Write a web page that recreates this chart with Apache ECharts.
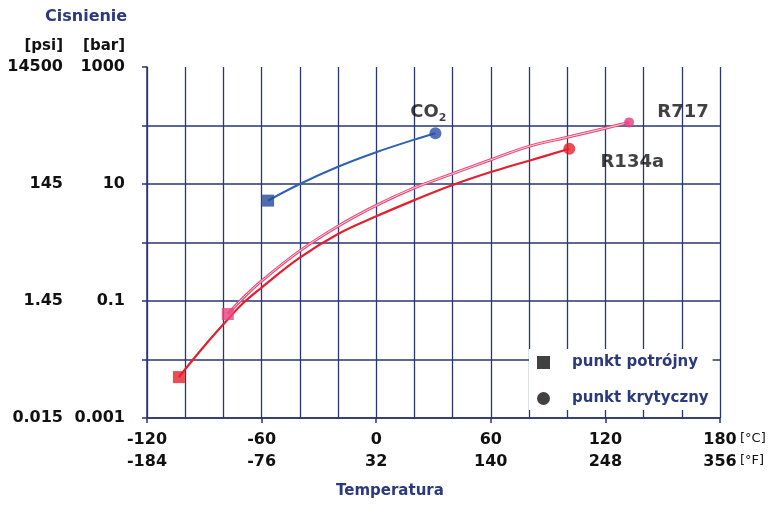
<!DOCTYPE html>
<html><head><meta charset="utf-8">
<script src="https://cdn.jsdelivr.net/npm/echarts@6/dist/echarts.min.js"></script>
<style>html,body{margin:0;padding:0;background:#fff}#c{width:774px;height:505px}</style>
</head><body><div id="c"></div>
<script>
// ---- data ----
const celsiusTicks = [-120, -60, 0, 60, 120, 180];
const fahrenheitTicks = [-184, -76, 32, 140, 248, 356];
const barTickExp = [-3, -1, 1, 3];
const barTickLabels = ['0.001', '0.1', '10', '1000'];
const psiTickLabels = ['0.015', '1.45', '145', '14500'];

const co2T = [-56.6, -40, -20, 0, 20, 31];
const co2P = [5.2, 10, 19.7, 34.9, 57.3, 73.8];

const r134aT = [-103.3, -90, -80, -70, -60, -40, -20, 0, 20, 40, 60, 80, 101.1];
const r134aP = [0.005, 0.017, 0.04, 0.09, 0.17, 0.55, 1.4, 2.8, 5.3, 9.6, 16, 25, 40];

const r717T = [-77.7, -70, -60, -40, -20, 0, 20, 40, 60, 80, 100, 120, 132.4];
const r717P = [0.06, 0.11, 0.22, 0.72, 1.9, 4.3, 8.6, 15, 26, 44, 63, 90, 113];

const legendNames = ['punkt potrójny', 'punkt krytyczny'];

// ---- chart ----
const FONT = '"DejaVu Sans", "Liberation Sans", Arial, sans-serif';
const NAVY = '#2b3a7c';
const GRID = '#2a3575';
const TXT = '#111';
const zip = (a, b) => a.map((v, i) => [v, b[i]]);

function markers(T, P, color, sqColor, circSize, labelText, offset) {
  const n = T.length - 1;
  return {
    type: 'scatter', z: 5, silent: true,
    data: [
      { value: [T[0], P[0]], symbol: 'rect', symbolSize: 12, itemStyle: { color: sqColor } },
      { value: [T[n], P[n]], symbol: 'circle', symbolSize: circSize, itemStyle: { color: color },
        label: { show: true, position: 'inside', offset: offset, formatter: labelText,
          color: TXT, fontFamily: FONT, fontWeight: 'bold', fontSize: 18,
          rich: { a: { fontSize: 18, fontWeight: 'bold', fontFamily: FONT, color: TXT },
                  s: { fontSize: 11, fontWeight: 'bold', fontFamily: FONT, color: TXT, padding: [12, 0, 0, 0] } } } }
    ]
  };
}

const chart = echarts.init(document.getElementById('c'), null, { renderer: 'canvas' });
chart.setOption({
  animation: false,
  backgroundColor: '#fff',
  grid: { left: 147, right: 54, top: 67, bottom: 87 },
  xAxis: {
    type: 'value', min: -120, max: 180, interval: 60,
    axisLine: { show: true, onZero: false, lineStyle: { color: GRID, width: 1.5 } },
    axisTick: { show: true, length: 5, lineStyle: { color: GRID, width: 1.5 } },
    splitLine: { show: true, lineStyle: { color: GRID, width: 1.3 } },
    minorTick: { show: false, splitNumber: 3 },
    minorSplitLine: { show: true, lineStyle: { color: GRID, width: 1.3 } },
    axisLabel: {
      margin: 11, lineHeight: 22, fontSize: 16, fontWeight: 'bold', fontFamily: FONT, color: TXT,
      formatter: v => { const i = celsiusTicks.indexOf(v); return i < 0 ? '' : celsiusTicks[i] + '\n' + fahrenheitTicks[i]; }
    }
  },
  yAxis: [{
    type: 'log', logBase: 10, min: 0.001, max: 1000, interval: 1,
    axisLine: { show: true, onZero: false, lineStyle: { color: GRID, width: 1.5 } },
    axisTick: { show: true, length: 5, lineStyle: { color: GRID, width: 1.5 } },
    splitLine: { show: true, showMaxLine: false, lineStyle: { color: GRID, width: 1.5 } },
    axisLabel: {
      margin: 22, fontSize: 16, fontWeight: 'bold', fontFamily: FONT, color: TXT,
      formatter: v => { const i = barTickExp.indexOf(Math.round(Math.log10(v))); return i < 0 ? '' : barTickLabels[i]; }
    }
  }, {
    type: 'log', logBase: 10, min: 0.001, max: 1000, interval: 1, position: 'left',
    axisLine: { show: false, onZero: false }, axisTick: { show: false }, splitLine: { show: false },
    axisLabel: {
      margin: 84, fontSize: 16, fontWeight: 'bold', fontFamily: FONT, color: TXT,
      formatter: v => { const i = barTickExp.indexOf(Math.round(Math.log10(v))); return i < 0 ? '' : psiTickLabels[i]; }
    }
  }],
  legend: {
    orient: 'vertical', left: 529, top: 349, data: [
      { name: legendNames[0], icon: 'rect' }, { name: legendNames[1], icon: 'circle' }],
    itemWidth: 13, itemHeight: 13, itemGap: 21,
    backgroundColor: '#fff', padding: [6, 4, 4, 8],
    textStyle: { color: NAVY, fontFamily: FONT, fontWeight: 'bold', fontSize: 15, padding: [0, 0, 0, 17] }
  },
  graphic: [
    { type: 'text', left: 45, top: 9, style: { text: 'Cisnienie', fill: NAVY, font: 'bold 16px ' + FONT } },
    { type: 'text', right: 711, top: 39, style: { text: '[psi]', fill: TXT, font: 'bold 15px ' + FONT } },
    { type: 'text', right: 649, top: 39, style: { text: '[bar]', fill: TXT, font: 'bold 15px ' + FONT } },
    { type: 'text', left: 336, top: 484, style: { text: 'Temperatura', fill: NAVY, font: 'bold 15px ' + FONT } },
    { type: 'text', left: 740, top: 432, style: { text: '[°C]', fill: TXT, font: '13px ' + FONT } },
    { type: 'text', left: 740, top: 454, style: { text: '[°F]', fill: TXT, font: '13px ' + FONT } }
  ],
  series: [
    { name: 'CO2', type: 'line', smooth: 0.4, symbol: 'none', data: zip(co2T, co2P), lineStyle: { color: '#2f62b0', width: 2 } },
    { name: 'R134a', type: 'line', smooth: 0.4, symbol: 'none', data: zip(r134aT, r134aP), lineStyle: { color: '#e3202e', width: 2.2 } },
    { name: 'R717', type: 'line', smooth: 0.4, symbol: 'none', data: zip(r717T, r717P), lineStyle: { color: '#e84a78', width: 3 } },
    { name: 'R717 inner', type: 'line', smooth: 0.4, symbol: 'none', data: zip(r717T, r717P), lineStyle: { color: '#fbd3de', width: 1 } },
    markers(co2T, co2P, '#2a4ea6', '#24479a', 12, '{a|CO}{s|2}', [-7, -21]),
    markers(r134aT, r134aP, '#e5202a', '#e5202a', 12, 'R134a', [63, 14]),
    markers(r717T, r717P, '#ea3a7c', '#e8457e', 10, 'R717', [54, -10]),
    { name: legendNames[0], type: 'scatter', data: [], itemStyle: { color: '#111' } },
    { name: legendNames[1], type: 'scatter', data: [], itemStyle: { color: '#111' } }
  ]
});
</script>
</body></html>
